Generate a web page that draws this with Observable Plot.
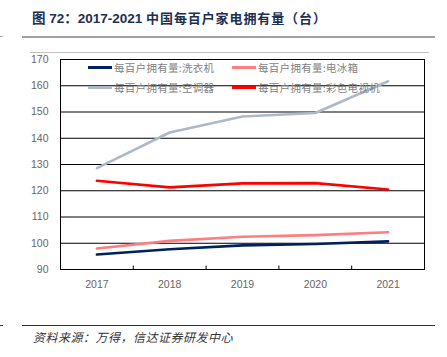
<!DOCTYPE html>
<html>
<head>
<meta charset="utf-8">
<script src="https://cdn.jsdelivr.net/npm/d3@7"></script>
<script src="https://cdn.jsdelivr.net/npm/@observablehq/plot@0.6"></script>
<style>
  html, body { margin: 0; padding: 0; background: #fff; }
  #wrap { position: relative; width: 447px; height: 357px; overflow: hidden; font-family: "Liberation Sans", Arial, sans-serif; }
  #title { position: absolute; left: 32px; top: 7px; font-size: 13.5px; font-weight: bold; color: #1f2f4f; font-family: "Liberation Sans", "Noto Sans CJK SC", sans-serif; white-space: nowrap; }
  #title .cjk { font-family: "Noto Sans CJK SC", sans-serif; font-size: 13px; letter-spacing: 0.9px; }
  .hl { position: absolute; }
  #caption { position: absolute; left: 33px; top: 328px; font-size: 12px; letter-spacing: 0.5px; font-style: italic; color: #333; font-family: "Noto Sans CJK SC", sans-serif; white-space: nowrap; }
  #legend { position: absolute; left: 88px; top: 60px; font-family: "Noto Sans CJK SC", sans-serif; font-size: 10.5px; letter-spacing: 0.3px; color: #7f7f7f; }
  .item { position: absolute; white-space: nowrap; display: flex; align-items: center; }
  .sw { width: 24px; height: 3px; margin-right: 2px; }
  #chart { position: absolute; left: 0; top: 0; }
</style>
</head>
<body>
<div id="wrap">
  <div id="chart"></div>
  <div id="title">图 72：2017-2021 <span class="cjk">中国每百户家电拥有量（台）</span></div>
  <div class="hl" style="left:0;top:36px;width:3px;height:1px;background:#a6a6a6"></div>
  <div class="hl" style="left:22px;top:36px;width:413px;height:2px;background:#a0a0a0"></div>
  <div class="hl" style="left:30px;top:52px;width:399px;height:1px;background:#c0c0c0"></div>
  <div id="legend"></div>
  <div class="hl" style="left:0;top:325px;width:3px;height:1px;background:#333"></div>
  <div class="hl" style="left:22px;top:325px;width:413px;height:1px;background:#333"></div>
  <div id="caption">资料来源：万得，信达证券研发中心</div>
</div>
<script>
const years = ["2017", "2018", "2019", "2020", "2021"];
const seriesNames = ["每百户拥有量:洗衣机", "每百户拥有量:电冰箱", "每百户拥有量:空调器", "每百户拥有量:彩色电视机"];
const washer = [95.7, 97.7, 99.2, 99.7, 100.7];
const fridge = [98.0, 100.9, 102.5, 103.1, 104.2];
const aircon = [128.6, 142.2, 148.3, 149.6, 161.7];
const tv = [123.8, 121.3, 122.8, 122.9, 120.5];
const yTicks = [90, 100, 110, 120, 130, 140, 150, 160, 170];
const colors = ["#002060", "#ff7c80", "#adb9ca", "#ff0000"];

const seriesValues = [washer, fridge, aircon, tv];
const data = [];
seriesValues.forEach((vals, s) => vals.forEach((v, i) => data.push({year: years[i], value: v, series: seriesNames[s]})));

// boundaries between categories for x tick marks
const boundaries = years.slice(0, -1).map((y, i) => i + 1.5);
const xIndex = years.map((y, i) => i + 1);

const chart = Plot.plot({
  width: 447,
  height: 357,
  marginTop: 59,
  marginBottom: 88,
  marginLeft: 60,
  marginRight: 23,
  style: {fontFamily: "Liberation Sans, Arial, sans-serif", fontSize: "10.5px", color: "#595959", background: "transparent"},
  x: {type: "linear", domain: [0.5, years.length + 0.5], axis: null},
  y: {domain: [90, 170], axis: null},
  color: {domain: seriesNames, range: colors},
  marks: [
    Plot.frame({stroke: "#000", strokeWidth: 1}),
    Plot.tickY(yTicks, {y: d => d, x1: 0.5, x2: 0.5 + 0.055, stroke: "#000"}),
    Plot.ruleX(boundaries, {x: d => d, y1: 90, y2: 91.3, stroke: "#000"}),
    Plot.text(yTicks, {y: d => d, x: 0.5, dx: -12, textAnchor: "end", text: d => String(d), fill: "#666", fontSize: 10.5}),
    Plot.text(years, {x: (d, i) => xIndex[i], y: 90, dy: 15, text: d => d, fill: "#666", fontSize: 10.5}),
    Plot.line(data, {x: d => years.indexOf(d.year) + 1, y: "value", z: "series", stroke: "series", strokeWidth: 2.6})
  ]
});
document.getElementById("chart").appendChild(chart);

const legend = document.getElementById("legend");
const positions = [[0, 0], [144, 0], [0, 20], [144, 20]];
seriesNames.forEach((name, i) => {
  const it = document.createElement("div");
  it.className = "item";
  it.style.left = positions[i][0] + "px";
  it.style.top = positions[i][1] + "px";
  it.innerHTML = `<span class="sw" style="background:${colors[i]}"></span><span>${name}</span>`;
  legend.appendChild(it);
});
</script>
</body>
</html>
